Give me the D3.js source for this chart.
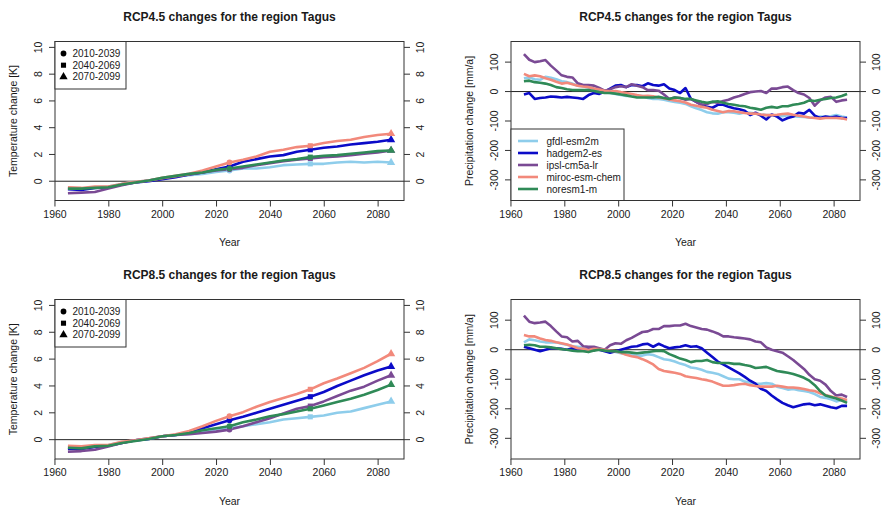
<!DOCTYPE html>
<html><head><meta charset="utf-8">
<script src="https://cdn.jsdelivr.net/npm/d3@7"></script>
<style>
body{margin:0;background:#fff;}
svg{display:block;font-family:"Liberation Sans",Arial,Helvetica,sans-serif;}
</style></head>
<body>
<svg id="chart" width="884" height="506"></svg>
<script>
// ---------------- DATA ----------------
const models = ["gfdl-esm2m","hadgem2-es","ipsl-cm5a-lr","miroc-esm-chem","noresm1-m"];
const modelColors = ["#8ECDEB","#0B0BC8","#7A4A94","#F2897B","#2F8A57"];
const periods = ["2010-2039","2040-2069","2070-2099"];
const periodYears = [2025,2055,2085];
const xTicks = [1960,1980,2000,2020,2040,2060,2080];
const tempTicks = [0,2,4,6,8,10];
const precTicks = [-300,-200,-100,0,100];
const titles = ["RCP4.5 changes for the region Tagus","RCP4.5 changes for the region Tagus",
                "RCP8.5 changes for the region Tagus","RCP8.5 changes for the region Tagus"];

// temperature: years 1965..2085 step 5
const tempYears = d3.range(1965,2086,5);
const temp45_gfdl   = [-0.5,-0.55,-0.45,-0.4,-0.2,-0.05,0.05,0.2,0.35,0.45,0.55,0.7,0.8,0.95,0.95,1.05,1.2,1.25,1.3,1.3,1.4,1.45,1.4,1.45,1.4];
const temp45_hadgem = [-0.6,-0.65,-0.5,-0.45,-0.25,-0.1,0.0,0.15,0.3,0.5,0.65,0.9,1.1,1.45,1.65,1.85,1.95,2.2,2.35,2.5,2.6,2.75,2.85,2.95,3.1];
const temp45_ipsl   = [-0.9,-0.85,-0.8,-0.55,-0.3,-0.1,0.05,0.2,0.35,0.5,0.65,0.8,0.9,1.0,1.2,1.35,1.5,1.6,1.7,1.8,1.85,1.95,2.05,2.15,2.3];
const temp45_miroc  = [-0.45,-0.5,-0.4,-0.4,-0.2,-0.05,0.05,0.25,0.4,0.55,0.8,1.1,1.4,1.6,1.85,2.2,2.35,2.55,2.65,2.85,3.0,3.1,3.3,3.45,3.55];
const temp45_noresm = [-0.55,-0.55,-0.5,-0.45,-0.25,-0.1,0.05,0.25,0.4,0.55,0.65,0.85,0.95,1.1,1.25,1.4,1.55,1.65,1.8,1.9,1.95,2.05,2.15,2.25,2.3];

const temp85_gfdl   = [-0.55,-0.6,-0.45,-0.4,-0.2,-0.05,0.05,0.25,0.35,0.45,0.6,0.75,0.85,1.0,1.15,1.3,1.5,1.6,1.7,1.8,2.0,2.1,2.35,2.6,2.85];
const temp85_hadgem = [-0.7,-0.7,-0.55,-0.45,-0.25,-0.05,0.05,0.25,0.35,0.55,0.85,1.15,1.45,1.7,2.0,2.3,2.6,2.9,3.2,3.55,4.0,4.4,4.8,5.15,5.45];
const temp85_ipsl   = [-0.9,-0.85,-0.75,-0.5,-0.25,-0.05,0.1,0.25,0.35,0.4,0.5,0.6,0.75,1.0,1.3,1.6,1.95,2.3,2.5,2.85,3.25,3.65,3.95,4.4,4.8];
const temp85_miroc  = [-0.45,-0.5,-0.4,-0.4,-0.15,-0.05,0.1,0.25,0.4,0.65,1.0,1.4,1.75,2.05,2.45,2.8,3.1,3.4,3.75,4.2,4.55,4.95,5.35,5.85,6.4];
const temp85_noresm = [-0.6,-0.65,-0.5,-0.45,-0.25,-0.1,0.05,0.25,0.35,0.5,0.7,0.85,1.0,1.3,1.5,1.75,1.9,2.1,2.3,2.55,2.8,3.05,3.35,3.7,4.1];

// precipitation: years 1965..2085 step 2
const precYears = d3.range(1965,2086,2);
const prec45_gfdl   = [45,48,42,40,50,47,42,35,32,27,20,17,14,10,3,-2,-5,-8,-12,-15,-14,-16,-15,-22,-25,-25,-28,-32,-35,-38,-42,-50,-57,-63,-70,-74,-75,-70,-70,-72,-75,-71,-72,-75,-78,-80,-80,-83,-84,-80,-84,-85,-86,-88,-89,-85,-86,-84,-80,-85,-88];
const prec45_hadgem = [-10,-5,-25,-22,-20,-17,-18,-20,-18,-20,-22,-25,-12,-5,-8,0,10,20,22,15,22,22,18,28,22,20,25,10,5,-5,12,-25,-35,-45,-52,-55,-45,-45,-52,-57,-60,-65,-80,-72,-82,-95,-78,-85,-98,-90,-85,-72,-75,-62,-82,-90,-85,-88,-85,-90,-90];
const prec45_ipsl   = [127,108,100,103,107,88,72,55,50,48,28,22,22,20,12,3,8,15,18,15,25,20,15,5,5,3,-10,-25,-20,-22,-28,-25,-35,-45,-42,-35,-38,-32,-28,-20,-15,-8,-2,0,2,-5,10,10,15,17,5,-5,-10,-22,-48,-30,-20,-18,-35,-30,-28];
const prec45_miroc  = [60,52,55,52,45,40,33,27,30,25,20,17,15,10,7,3,0,2,-2,-5,-8,-12,-15,-14,-16,-20,-23,-27,-30,-33,-37,-45,-48,-52,-55,-62,-66,-70,-66,-67,-70,-73,-75,-75,-78,-80,-80,-79,-76,-75,-79,-82,-85,-88,-90,-92,-90,-90,-90,-91,-95];
const prec45_noresm = [35,37,32,30,27,22,15,12,8,5,5,5,5,2,-2,-5,-5,-7,-10,-13,-17,-20,-20,-20,-20,-18,-22,-25,-20,-22,-25,-25,-30,-35,-38,-35,-33,-38,-42,-45,-48,-50,-55,-58,-62,-55,-52,-55,-50,-50,-45,-42,-38,-30,-32,-28,-25,-22,-20,-15,-8];

const prec85_gfdl   = [25,35,32,28,25,25,25,20,17,12,10,7,5,5,2,0,-5,-8,-12,-15,-18,-20,-20,-15,-18,-25,-32,-35,-40,-47,-52,-60,-63,-68,-75,-78,-82,-90,-98,-100,-100,-108,-112,-115,-115,-113,-115,-125,-130,-135,-133,-137,-140,-143,-150,-160,-163,-168,-175,-170,-175];
const prec85_hadgem = [10,5,0,-5,0,5,5,3,0,5,0,0,5,3,0,-5,-10,-5,0,5,10,12,18,20,10,20,12,5,8,10,15,10,12,5,-10,-25,-40,-50,-60,-70,-80,-92,-105,-115,-132,-140,-155,-168,-180,-188,-195,-190,-185,-183,-188,-185,-190,-195,-198,-190,-190];
const prec85_ipsl   = [115,95,90,92,95,80,62,45,42,28,30,12,10,10,5,0,15,22,20,32,40,50,60,62,70,70,80,80,82,82,88,80,75,70,68,62,55,45,45,42,40,38,35,28,25,8,0,-5,-10,-22,-35,-50,-65,-85,-100,-105,-118,-140,-155,-152,-160];
const prec85_miroc  = [50,45,45,38,33,30,25,22,18,12,5,3,0,3,2,0,-3,-5,-10,-17,-22,-25,-32,-40,-50,-65,-72,-75,-78,-82,-90,-93,-96,-100,-103,-108,-115,-122,-122,-120,-117,-115,-120,-123,-125,-125,-125,-122,-125,-128,-128,-130,-133,-137,-140,-148,-153,-158,-163,-165,-170];
const prec85_noresm = [15,17,15,10,10,8,5,2,0,-3,-5,-5,-8,-3,0,-3,-5,-5,-8,-8,-10,-12,-10,-8,-5,-3,-5,-15,-22,-30,-35,-42,-38,-38,-35,-42,-45,-45,-45,-48,-48,-52,-55,-62,-60,-58,-65,-72,-75,-78,-82,-88,-95,-105,-120,-140,-155,-160,-165,-172,-180];

// ---------------- LAYOUT ----------------
const svg = d3.select("#chart");
const txt = "#1a1a1a", axc = "#333";
const panels = [
  {x0:55,  x1:404, y0:41.5,  y1:200.5, kind:"temp", title:titles[0], series:[temp45_gfdl,temp45_hadgem,temp45_ipsl,temp45_miroc,temp45_noresm]},
  {x0:511, x1:860, y0:41.5,  y1:200.5, kind:"prec", title:titles[1], series:[prec45_gfdl,prec45_hadgem,prec45_ipsl,prec45_miroc,prec45_noresm], legend:true},
  {x0:55,  x1:404, y0:299.5, y1:459,   kind:"temp", title:titles[2], series:[temp85_gfdl,temp85_hadgem,temp85_ipsl,temp85_miroc,temp85_noresm]},
  {x0:511, x1:860, y0:299.5, y1:459,   kind:"prec", title:titles[3], series:[prec85_gfdl,prec85_hadgem,prec85_ipsl,prec85_miroc,prec85_noresm]}
];

const symbol = [d3.symbolCircle, d3.symbolSquare, d3.symbolTriangle];
const symSize = [26, 26, 30];

panels.forEach(p => {
  const g = svg.append("g");
  const isT = p.kind === "temp";
  const years = isT ? tempYears : precYears;
  const x = d3.scaleLinear().domain([1960.2, 2089.8]).range([p.x0, p.x1]);
  const y = isT ? d3.scaleLinear().domain([-1.44, 10.44]).range([p.y1, p.y0])
                : d3.scaleLinear().domain([-370, 170]).range([p.y1, p.y0]);
  const yt = isT ? tempTicks : precTicks;

  // title
  g.append("text").attr("x",(p.x0+p.x1)/2).attr("y",p.y0-20.5)
    .attr("text-anchor","middle").attr("font-weight","bold").attr("font-size",12).attr("fill",txt)
    .text(p.title);

  // lines (clip)
  const cid = "clip"+p.x0+"_"+p.y0;
  svg.append("clipPath").attr("id",cid).append("rect")
    .attr("x",p.x0).attr("y",p.y0).attr("width",p.x1-p.x0).attr("height",p.y1-p.y0);
  const lg = g.append("g").attr("clip-path",`url(#${cid})`);

  // zero line
  lg.append("line").attr("x1",p.x0).attr("x2",p.x1).attr("y1",y(0)).attr("y2",y(0))
    .attr("stroke","#222").attr("stroke-width",1);

  const line = d3.line().x((d,i)=>x(years[i])).y(d=>y(d));
  p.series.forEach((s,k) => {
    lg.append("path").attr("d",line(s)).attr("fill","none")
      .attr("stroke",modelColors[k]).attr("stroke-width",2.6).attr("stroke-linejoin","round");
    if (isT) {
      periodYears.forEach((py,j) => {
        const idx = years.indexOf(py);
        g.append("path").attr("d",d3.symbol(symbol[j],symSize[j])())
          .attr("transform",`translate(${x(py)},${y(s[idx])})`).attr("fill",modelColors[k]);
      });
    }
  });

  // box
  g.append("rect").attr("x",p.x0).attr("y",p.y0).attr("width",p.x1-p.x0).attr("height",p.y1-p.y0)
    .attr("fill","none").attr("stroke",axc).attr("stroke-width",1);

  // x axis
  const xa = g.append("g").attr("transform",`translate(0,${p.y1})`)
    .call(d3.axisBottom(x).tickValues(xTicks).tickFormat(d3.format("d")).tickSize(6).tickPadding(4));
  xa.select(".domain").remove();
  xa.selectAll("line").attr("stroke",axc);
  xa.selectAll("text").attr("font-size",10.5).attr("fill",txt).attr("font-family",null);

  // y axes left and right (rotated labels)
  [[p.x0,-1],[p.x1,1]].forEach(([ax,dir]) => {
    const ya = g.append("g");
    yt.forEach(v => {
      ya.append("line").attr("x1",ax).attr("x2",ax+dir*6).attr("y1",y(v)).attr("y2",y(v)).attr("stroke",axc);
      ya.append("text").attr("transform",`translate(${ax+dir*16.8},${y(v)}) rotate(-90)`)
        .attr("text-anchor","middle").attr("dy","0.35em").attr("font-size",10.5).attr("fill",txt).text(v);
    });
  });

  // axis titles
  g.append("text").attr("x",(p.x0+p.x1)/2).attr("y",p.y1+45.5).attr("text-anchor","middle")
    .attr("font-size",10.5).attr("fill",txt).text("Year");
  g.append("text").attr("transform",`translate(${p.x0-42},${(p.y0+p.y1)/2}) rotate(-90)`)
    .attr("text-anchor","middle").attr("dy","0.35em").attr("font-size",10.5).attr("fill",txt)
    .text(isT ? "Temperature change [K]" : "Precipitation change [mm/a]");

  // legends
  if (isT) {
    const lgd = g.append("g");
    lgd.append("rect").attr("x",p.x0).attr("y",p.y0).attr("width",71).attr("height",47.5)
      .attr("fill","#fff").attr("stroke",axc);
    periods.forEach((t,j) => {
      const ry = p.y0 + 12 + j*11.7;
      lgd.append("path").attr("d",d3.symbol(symbol[j],symSize[j])())
        .attr("transform",`translate(${p.x0+8.5},${ry})`).attr("fill","#000");
      lgd.append("text").attr("x",p.x0+17.5).attr("y",ry).attr("dy","0.35em")
        .attr("font-size",10).attr("fill",txt).text(t);
    });
  }
  if (p.legend) {
    const lgd = g.append("g");
    const top = 129;
    lgd.append("rect").attr("x",p.x0).attr("y",top).attr("width",113).attr("height",p.y1-top)
      .attr("fill","#fff").attr("stroke",axc);
    models.forEach((m,k) => {
      const ry = top + 12 + k*12;
      lgd.append("line").attr("x1",p.x0+7).attr("x2",p.x0+27).attr("y1",ry).attr("y2",ry)
        .attr("stroke",modelColors[k]).attr("stroke-width",2.6);
      lgd.append("text").attr("x",p.x0+35.5).attr("y",ry).attr("dy","0.35em")
        .attr("font-size",10).attr("fill",txt).text(m);
    });
  }
});
</script>
</body></html>
